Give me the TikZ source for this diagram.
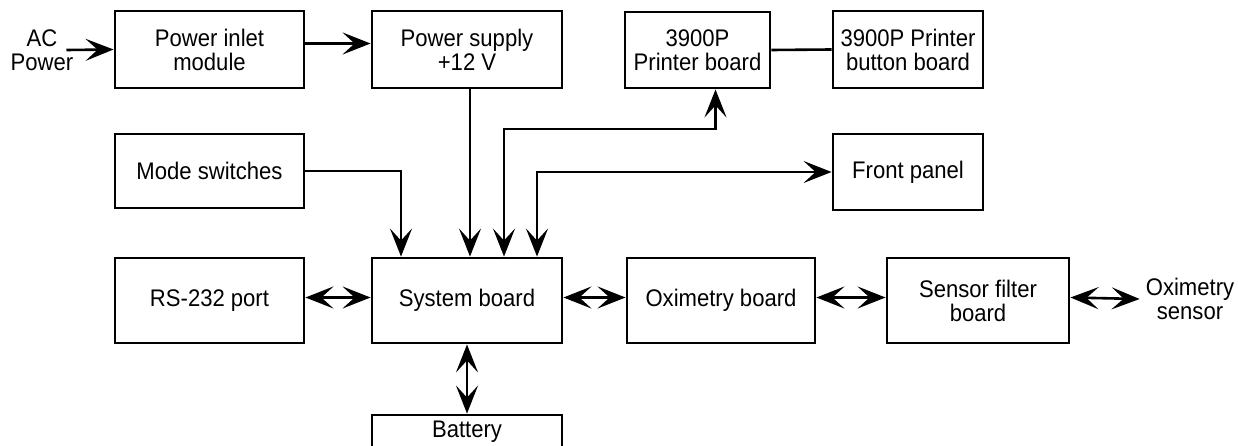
\documentclass[tikz,border=0pt]{standalone}
\usepackage{fontspec}
\setmainfont[FakeStretch=0.92]{Liberation Sans}
\usepackage{tikz}
\usetikzlibrary{arrows.meta,positioning}
\tikzset{
  blk/.style={draw, line width=2.9pt, align=center, inner sep=2pt, font=\fontsize{24}{24}\selectfont},
  lbl/.style={align=center, inner sep=0pt, font=\fontsize{24}{24}\selectfont},
  arr/.style={-{Stealth[length=28pt, width=22pt, inset=12pt]}, line width=2.6pt},
  arr2/.style={{Stealth[length=28pt, width=22pt, inset=12pt]}-{Stealth[length=28pt, width=22pt, inset=12pt]}, line width=2.6pt},
  lnk/.style={line width=2.6pt},
}
\begin{document}
\begin{tikzpicture}[x=1pt, y=-1pt]
  \useasboundingbox (0,0) rectangle (1238,446);
  % top row
  \node[lbl] (ac) at (42,50) {AC\\Power};
  \node[blk, minimum width=189, minimum height=77] (inlet) at (209.5,49.5) {Power inlet\\module};
  \node[blk, minimum width=190, minimum height=77] (supply) at (467,49.5) {Power supply\\+12 V};
  \node[blk, minimum width=145, minimum height=76] (printer) at (697.5,50) {3900P\\Printer board};
  \node[blk, minimum width=150, minimum height=77] (button) at (908,49.5) {3900P Printer\\button board};
  % middle row
  \node[blk, minimum width=189, minimum height=74] (mode) at (209.5,171) {Mode switches};
  \node[blk, minimum width=150, minimum height=76] (front) at (908,172) {Front panel};
  % lower row
  \node[blk, minimum width=189, minimum height=85] (rs) at (209.5,300.5) {RS-232 port};
  \node[blk, minimum width=190, minimum height=85] (sys) at (467,300.5) {System board};
  \node[blk, minimum width=188, minimum height=85] (oxi) at (721,300.5) {Oximetry board};
  \node[blk, minimum width=182, minimum height=85] (filter) at (978,300.5) {Sensor filter\\board};
  \node[lbl] (oxs) at (1190,299) {Oximetry\\sensor};
  \node[blk, minimum width=190, minimum height=32.5] (bat) at (467,431.25) {Battery};
  \coordinate (prbus) at (600,129);

  \draw[arr] ([xshift=-7]ac.east) -- (inlet.west);
  \draw[arr] ([yshift=6]inlet.east) -- ([yshift=6]supply.west);
  \draw[lnk] (printer.east) -- (button.west);
  \draw[arr] (mode.east) -| ([xshift=-66]sys.north);
  \draw[arr] ([xshift=3]supply.south) -- ([xshift=3]sys.north);
  \draw[arr2] ([xshift=37]sys.north) -- ([xshift=37]sys.north |- prbus) -| ([xshift=18]printer.south);
  \draw[arr2] ([xshift=70]sys.north) |- (front.west);
  \draw[arr2] ([yshift=3]rs.east) -- ([yshift=3]sys.west);
  \draw[arr2] ([yshift=3]sys.east) -- ([yshift=3]oxi.west);
  \draw[arr2] ([yshift=3]oxi.east) -- ([yshift=3]filter.west);
  \draw[arr2] ([yshift=3]filter.east) -- ([xshift=-6]oxs.west);
  \draw[arr2] (sys.south) -- (bat.north);
\end{tikzpicture}
\end{document}
